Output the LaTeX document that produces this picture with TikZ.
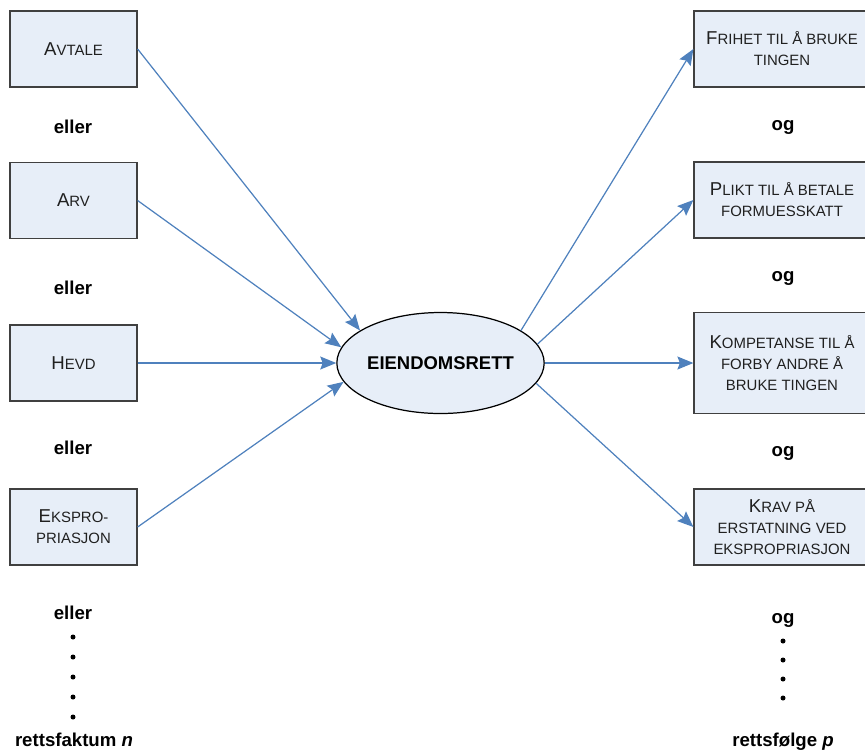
\documentclass[tikz,border=0pt]{standalone}
\usepackage{fontspec}
\setmainfont{Liberation Sans}
\usetikzlibrary{shapes.geometric,arrows.meta}
\definecolor{boxfill}{HTML}{E7EEF8}
\definecolor{boxline}{HTML}{404040}
\definecolor{boxtext}{HTML}{202020}
\definecolor{arrowblue}{HTML}{4F81BD}
\newcommand{\lowcaps}[1]{{\fontsize{8.5}{12}\selectfont #1}}
\tikzset{
every picture/.style={
line width=0.7pt
}}

\begin{document}
\begin{tikzpicture}[
fact/.style = {rectangle, draw=boxline, fill=boxfill, align=center, text=boxtext,
  minimum width=2.54cm, minimum height=1.52cm, inner sep=0pt,
  font=\fontsize{10.6}{12}\selectfont},
effect/.style = {fact, minimum width=3.52cm},
word/.style = {font=\fontsize{10.6}{12}\selectfont\bfseries},
link/.style = {draw=arrowblue, -{Stealth[length=3.2mm,width=2.6mm,inset=0.5mm]}}]
\useasboundingbox (0,0) rectangle (17.3,-15.06);
\clip (0,0) rectangle (17.3,-15.06);
% rettsfakta
\node[fact] at (1.47,-0.98) (avtale) {A\lowcaps{VTALE}};
\node[fact] at (1.47,-4.01) (arv) {A\lowcaps{RV}};
\node[fact] at (1.47,-7.26) (hevd) {H\lowcaps{EVD}};
\node[fact] at (1.47,-10.54) (ekspro) {E\lowcaps{KSPRO-}\\\lowcaps{PRIASJON}};
\foreach \y/\n in {-2.54/1,-5.76/2,-8.96/3,-12.26/4}
  \node[word] at (1.46,\y) (eller\n) {eller};
\foreach \y in {-12.74,-13.14,-13.54,-13.94,-14.34}
  \fill (1.46,\y) circle (0.05);
\node[word] at (1.48,-14.8) (faktum) {rettsfaktum \textit{n}};

% rettsvirkningen
\node[ellipse, draw=black, fill=boxfill, minimum width=4.06cm, minimum height=2.02cm,
  inner sep=0pt, font=\fontsize{10.5}{12}\selectfont\bfseries] at (8.81,-7.26) (eiendom) {EIENDOMSRETT};

% rettsfolger
\node[effect] at (15.64,-0.98) (frihet) {F\lowcaps{RIHET TIL Å BRUKE}\\\lowcaps{TINGEN}};
\node[effect] at (15.64,-4.0) (plikt) {P\lowcaps{LIKT TIL Å BETALE}\\\lowcaps{FORMUESSKATT}};
\node[effect, minimum height=2.02cm] at (15.64,-7.26) (kompetanse)
  {K\lowcaps{OMPETANSE TIL Å}\\\lowcaps{FORBY ANDRE Å}\\\lowcaps{BRUKE TINGEN}};
\node[effect] at (15.64,-10.54) (krav) {K\lowcaps{RAV PÅ}\\\lowcaps{ERSTATNING VED}\\\lowcaps{EKSPROPRIASJON}};
\foreach \y/\n in {-2.54/1,-5.56/2,-9.06/3,-12.4/4}
  \node[word] at (15.66,\y) (og\n) {og};
\foreach \y in {-12.82,-13.2,-13.58,-13.96}
  \fill (15.66,\y) circle (0.05);
\node[word] at (15.66,-14.84) (folge) {rettsfølge \textit{p}};

\draw[link] (avtale.east) -- (eiendom.158);
\draw[link] (arv.east) -- (eiendom.171);
\draw[link] (hevd.east) -- (eiendom.180);
\draw[link] (ekspro.east) -- (eiendom.191);
\draw[link] (eiendom.22.5) -- (frihet.west);
\draw[link] (eiendom.11) -- (plikt.west);
\draw[link] (eiendom.0) -- (kompetanse.west);
\draw[link] (eiendom.-12.7) -- (krav.west);

\end{tikzpicture}
\end{document}
